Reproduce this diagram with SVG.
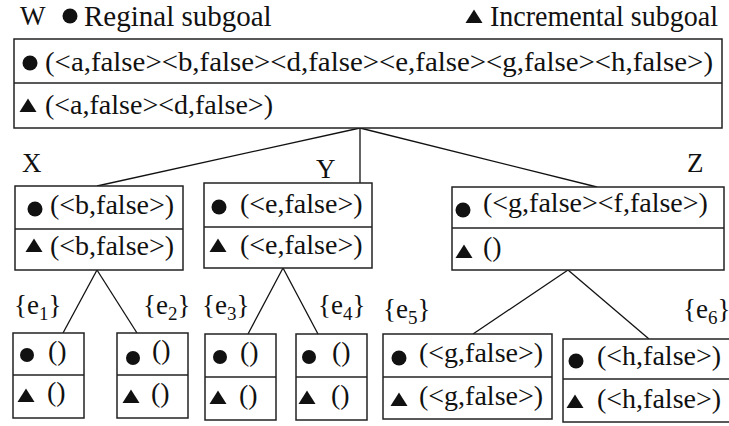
<svg xmlns="http://www.w3.org/2000/svg" width="729" height="426" viewBox="0 0 729 426">
<defs>
<style>
text{font-family:"Liberation Serif","Times New Roman",serif;font-size:28px;fill:#111}
.box{fill:#fff;stroke:#222;stroke-width:1.5}
.div{stroke:#222;stroke-width:1.5}
.edge{stroke:#111;stroke-width:1.3;fill:none}
.sub{font-size:19px}
.lab{font-size:27px}
.leg{font-size:29px}
</style>
<circle id="dot" r="7.5" fill="#111"/>
<circle id="sdot" r="7" fill="#111"/>
<polygon id="tri" points="0,-7.5 8.5,6 -8.5,6" fill="#111"/>
</defs>
<rect width="729" height="426" fill="#fff"/>
<g id="legend">
<text x="20" y="25" class="lab">W</text>
<use href="#dot" x="70" y="16"/>
<text x="84" y="26" class="leg">Reginal subgoal</text>
<use href="#tri" x="474" y="17"/>
<text x="490" y="26" class="leg" textLength="228" lengthAdjust="spacingAndGlyphs">Incremental subgoal</text>
</g>
<g id="connectors">
<line class="edge" x1="360" y1="128" x2="97" y2="186"/>
<line class="edge" x1="360" y1="128" x2="360" y2="183"/>
<line class="edge" x1="360" y1="128" x2="597" y2="187"/>
<line class="edge" x1="97" y1="270" x2="63" y2="333"/>
<line class="edge" x1="97" y1="270" x2="137" y2="333"/>
<line class="edge" x1="283" y1="268" x2="248" y2="334"/>
<line class="edge" x1="283" y1="268" x2="318" y2="334"/>
<line class="edge" x1="568" y1="270" x2="473" y2="334"/>
<line class="edge" x1="568" y1="270" x2="649" y2="339"/>
</g>
<g id="W">
<rect class="box" x="14" y="39" width="708" height="89"/>
<line class="div" x1="14" y1="83" x2="722" y2="83"/>
<use href="#dot" x="30" y="63"/>
<text x="45" y="71" textLength="668" lengthAdjust="spacingAndGlyphs">(&lt;a,false&gt;&lt;b,false&gt;&lt;d,false&gt;&lt;e,false&gt;&lt;g,false&gt;&lt;h,false&gt;)</text>
<use href="#tri" x="28" y="106"/>
<text x="45" y="114">(&lt;a,false&gt;&lt;d,false&gt;)</text>
</g>
<g id="X">
<text x="22" y="172" class="lab">X</text>
<rect class="box" x="15" y="186" width="168" height="84"/>
<line class="div" x1="15" y1="229" x2="183" y2="229"/>
<use href="#dot" x="35" y="209"/>
<text x="50" y="214">(&lt;b,false&gt;)</text>
<use href="#tri" x="34" y="246"/>
<text x="50" y="255">(&lt;b,false&gt;)</text>
</g>
<g id="Y">
<text x="316" y="178" class="lab">Y</text>
<rect class="box" x="204" y="183" width="168" height="85"/>
<line class="div" x1="204" y1="227" x2="372" y2="227"/>
<use href="#dot" x="219" y="207"/>
<text x="240" y="213">(&lt;e,false&gt;)</text>
<use href="#tri" x="218" y="246"/>
<text x="240" y="254">(&lt;e,false&gt;)</text>
</g>
<g id="Z">
<text x="687" y="172" class="lab">Z</text>
<rect class="box" x="452" y="187" width="272" height="83"/>
<line class="div" x1="452" y1="228" x2="724" y2="228"/>
<use href="#dot" x="463" y="210"/>
<text x="483" y="212">(&lt;g,false&gt;&lt;f,false&gt;)</text>
<use href="#tri" x="464" y="252"/>
<text x="483" y="256">()</text>
</g>
<g id="N1">
<text x="14" y="314" class="lab">{e<tspan class="sub" dy="6">1</tspan><tspan dy="-6">}</tspan></text>
<rect class="box" x="13" y="333" width="71" height="85"/>
<line class="div" x1="13" y1="375" x2="84" y2="375"/>
<use href="#sdot" x="27" y="355"/>
<text x="48" y="360">()</text>
<use href="#tri" x="26" y="396"/>
<text x="47" y="401">()</text>
</g>
<g id="N2">
<text x="143" y="314" class="lab">{e<tspan class="sub" dy="6">2</tspan><tspan dy="-6">}</tspan></text>
<rect class="box" x="117" y="333" width="71" height="85"/>
<line class="div" x1="117" y1="375" x2="188" y2="375"/>
<use href="#sdot" x="133" y="358"/>
<text x="152" y="359">()</text>
<use href="#tri" x="131" y="397"/>
<text x="151" y="402">()</text>
</g>
<g id="N3">
<text x="202" y="314" class="lab">{e<tspan class="sub" dy="6">3</tspan><tspan dy="-6">}</tspan></text>
<rect class="box" x="205" y="334" width="71" height="86"/>
<line class="div" x1="205" y1="377" x2="276" y2="377"/>
<use href="#sdot" x="220" y="357"/>
<text x="240" y="361">()</text>
<use href="#tri" x="218" y="398"/>
<text x="239" y="404">()</text>
</g>
<g id="N4">
<text x="318" y="314" class="lab">{e<tspan class="sub" dy="6">4</tspan><tspan dy="-6">}</tspan></text>
<rect class="box" x="296" y="334" width="71" height="86"/>
<line class="div" x1="296" y1="377" x2="367" y2="377"/>
<use href="#sdot" x="309" y="357"/>
<text x="332" y="361">()</text>
<use href="#tri" x="307" y="398"/>
<text x="331" y="404">()</text>
</g>
<g id="N5">
<text x="383" y="318" class="lab">{e<tspan class="sub" dy="6">5</tspan><tspan dy="-6">}</tspan></text>
<rect class="box" x="383" y="334" width="169" height="85"/>
<line class="div" x1="383" y1="377" x2="552" y2="377"/>
<use href="#dot" x="399" y="358"/>
<text x="419" y="362">(&lt;g,false&gt;)</text>
<use href="#tri" x="399" y="400"/>
<text x="419" y="405">(&lt;g,false&gt;)</text>
</g>
<g id="N6">
<text x="683" y="318" class="lab">{e<tspan class="sub" dy="6">6</tspan><tspan dy="-6">}</tspan></text>
<rect class="box" x="563" y="339" width="170" height="83"/>
<line class="div" x1="563" y1="379" x2="733" y2="379"/>
<use href="#dot" x="576" y="361"/>
<text x="597" y="365">(&lt;h,false&gt;)</text>
<use href="#tri" x="575" y="402"/>
<text x="597" y="408">(&lt;h,false&gt;)</text>
</g>
</svg>
